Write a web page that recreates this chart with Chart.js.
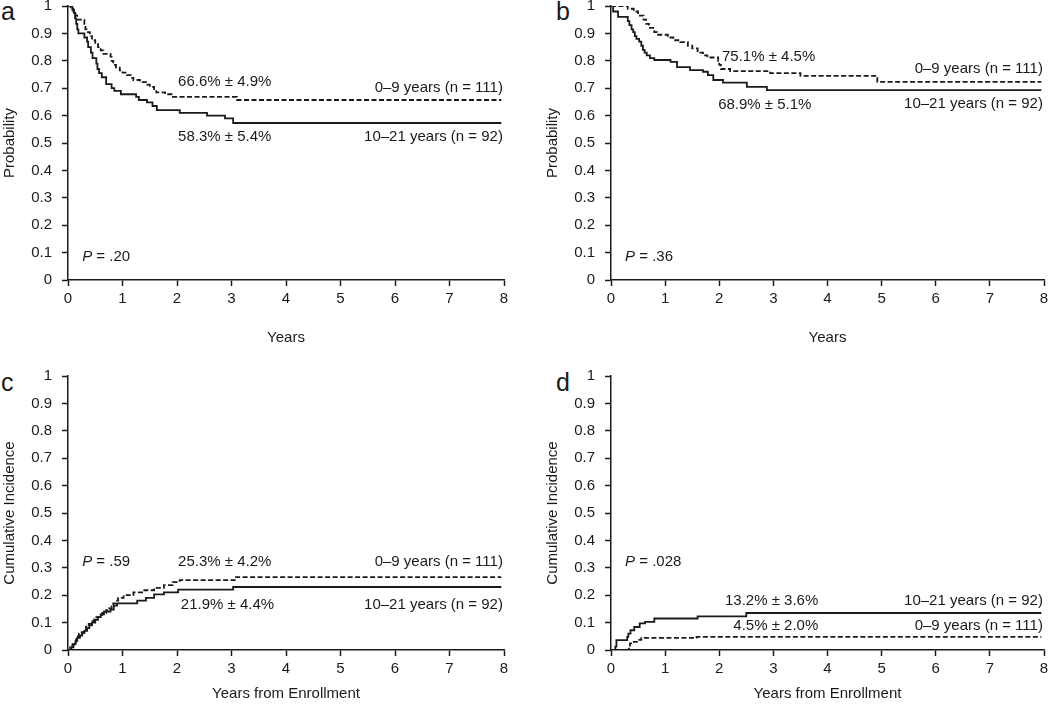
<!DOCTYPE html>
<html>
<head>
<meta charset="utf-8">
<script src="https://cdn.jsdelivr.net/npm/chart.js@4.4.0/dist/chart.umd.min.js"></script>
<style>
  html, body { margin: 0; padding: 0; background: #fff; }
  body { width: 1050px; height: 711px; position: relative; overflow: hidden; font-family: Arial, "Liberation Sans", sans-serif; }
  .panel { position: absolute; }
  .letter { position: absolute; font-size: 25px; color: #1a1a1a; line-height: 1; font-family: Arial, "Liberation Sans", sans-serif; }
</style>
</head>
<body>
<div class="letter" style="left:1px;top:-1px;">a</div>
<div class="letter" style="left:556px;top:-1px;">b</div>
<div class="letter" style="left:1px;top:370px;">c</div>
<div class="letter" style="left:556px;top:370px;">d</div>
<div class="panel" id="pa" style="left:0;top:0;width:525px;height:355px;"><canvas id="ca"></canvas></div>
<div class="panel" id="pb" style="left:543px;top:0;width:507px;height:355px;"><canvas id="cb"></canvas></div>
<div class="panel" id="pc" style="left:0;top:355px;width:525px;height:356px;"><canvas id="cc"></canvas></div>
<div class="panel" id="pd" style="left:543px;top:355px;width:507px;height:356px;"><canvas id="cd"></canvas></div>
<script>
// ---------- DATA ----------
const xTickLabels = ['0','1','2','3','4','5','6','7','8'];
const yTickLabels = ['0','0.1','0.2','0.3','0.4','0.5','0.6','0.7','0.8','0.9','1'];
const seriesNames = ['0–9 years (n = 111)', '10–21 years (n = 92)'];

// Panel a: event-free survival probability
const aYoungT = [0,0.05,0.10,0.14,0.17,0.30,0.32,0.34,0.40,0.44,0.50,0.55,0.60,0.65,0.78,0.80,0.83,0.88,0.95,1.00,1.08,1.15,1.20,1.32,1.45,1.50,1.58,1.62,1.78,1.90,3.10,7.95];
const aYoungS = [1,0.99,0.98,0.965,0.95,0.935,0.915,0.905,0.89,0.875,0.862,0.85,0.838,0.825,0.815,0.80,0.785,0.775,0.765,0.757,0.748,0.738,0.73,0.722,0.713,0.705,0.693,0.685,0.678,0.668,0.657,0.657];
const aOldT = [0,0.08,0.11,0.13,0.15,0.17,0.19,0.30,0.35,0.37,0.42,0.45,0.52,0.54,0.57,0.62,0.70,0.80,0.85,0.97,1.25,1.30,1.45,1.55,1.63,2.05,2.55,2.88,3.03,7.95];
const aOldS = [1,0.985,0.975,0.955,0.935,0.915,0.90,0.885,0.87,0.85,0.83,0.81,0.79,0.77,0.755,0.74,0.715,0.70,0.69,0.678,0.668,0.657,0.648,0.635,0.62,0.61,0.60,0.59,0.573,0.573];

// Panel b: overall survival probability
const bYoungT = [0,0.31,0.42,0.50,0.60,0.65,0.70,0.80,0.85,1.05,1.15,1.28,1.42,1.50,1.60,1.70,1.78,1.98,2.00,2.03,2.20,2.94,3.50,4.92,7.95];
const bYoungS = [1,0.99,0.98,0.965,0.95,0.935,0.92,0.905,0.895,0.885,0.875,0.868,0.855,0.845,0.83,0.82,0.812,0.80,0.785,0.77,0.762,0.755,0.745,0.723,0.723];
const bOldT = [0,0.04,0.13,0.31,0.34,0.38,0.41,0.44,0.47,0.52,0.56,0.59,0.62,0.66,0.72,0.80,1.10,1.22,1.46,1.70,1.79,1.89,2.07,2.51,2.88,7.95];
const bOldS = [1,0.98,0.96,0.945,0.93,0.915,0.905,0.89,0.88,0.87,0.855,0.84,0.83,0.82,0.81,0.803,0.796,0.777,0.766,0.76,0.748,0.73,0.72,0.705,0.693,0.693];

// Panel c: cumulative incidence (relapse)
const cYoungT = [0,0.04,0.08,0.12,0.15,0.18,0.20,0.25,0.29,0.33,0.38,0.43,0.48,0.52,0.58,0.63,0.70,0.75,0.80,0.83,0.88,0.92,1.02,1.20,1.40,1.58,1.76,1.92,2.05,3.08,7.95];
const cYoungS = [0,0.01,0.02,0.03,0.04,0.05,0.06,0.065,0.075,0.085,0.095,0.105,0.112,0.12,0.128,0.135,0.145,0.152,0.16,0.17,0.18,0.19,0.20,0.21,0.218,0.227,0.237,0.248,0.255,0.266,0.266];
const cOldT = [0,0.06,0.10,0.14,0.17,0.22,0.26,0.30,0.35,0.39,0.44,0.50,0.55,0.60,0.66,0.78,0.84,0.90,1.27,1.43,1.58,1.76,2.02,3.03,7.95];
const cOldS = [0,0.01,0.022,0.033,0.044,0.053,0.062,0.07,0.08,0.09,0.10,0.11,0.12,0.13,0.14,0.147,0.162,0.17,0.18,0.19,0.203,0.21,0.22,0.23,0.23];

// Panel d: cumulative incidence (non-relapse)
const dYoungT = [0,0.33,0.35,0.42,0.50,0.56,1.58,7.95];
const dYoungS = [0,0.012,0.024,0.03,0.037,0.044,0.048,0.048];
const dOldT = [0,0.08,0.10,0.30,0.32,0.36,0.43,0.53,0.63,0.80,1.60,2.50,7.95];
const dOldS = [0,0.012,0.036,0.048,0.06,0.072,0.084,0.097,0.103,0.115,0.123,0.135,0.135];

// ---------- HELPERS ----------
const FONT = 'Arial, "Liberation Sans", sans-serif';
const INK = '#1a1a1a';

function pts(t, s) { return t.map((v, i) => ({ x: v, y: s[i] })); }

const kmText = {
  id: 'kmText',
  afterDatasetsDraw(chart, args, opts) {
    const ctx = chart.ctx, xs = chart.scales.x, ys = chart.scales.y;
    ctx.save();
    ctx.fillStyle = INK;
    ctx.textBaseline = 'middle';
    (opts.items || []).forEach(it => {
      const px = xs.getPixelForValue(it.x), py = ys.getPixelForValue(it.y);
      ctx.textAlign = it.align || 'left';
      ctx.font = '15px ' + FONT;
      ctx.fillText(it.text, px, py);
    });
    if (opts.p) {
      const px = xs.getPixelForValue(opts.p.x), py = ys.getPixelForValue(opts.p.y);
      ctx.textAlign = 'left';
      ctx.font = 'italic 15px ' + FONT;
      ctx.fillText('P', px, py);
      const w = ctx.measureText('P').width;
      ctx.font = '15px ' + FONT;
      ctx.fillText(' = ' + opts.p.v, px + w, py);
    }
    ctx.restore();
  }
};

function makeChart(id, cfg) {
  const ds = [
    { label: seriesNames[0], data: pts(cfg.youngT, cfg.youngS), borderColor: INK, borderWidth: 1.8, borderDash: [5, 2.5], stepped: 'before', pointRadius: 0, fill: false },
    { label: seriesNames[1], data: pts(cfg.oldT, cfg.oldS), borderColor: INK, borderWidth: 1.8, stepped: 'before', pointRadius: 0, fill: false }
  ];
  return new Chart(document.getElementById(id), {
    type: 'line',
    data: { datasets: ds },
    plugins: [kmText],
    options: {
      responsive: true,
      maintainAspectRatio: false,
      animation: false,
      devicePixelRatio: 1,
      layout: { padding: { top: cfg.padTop, right: cfg.padRight, left: 0, bottom: 0 } },
      plugins: {
        legend: { display: false },
        tooltip: { enabled: false },
        kmText: { items: cfg.items, p: cfg.p }
      },
      scales: {
        x: {
          type: 'linear', min: 0, max: 8,
          border: { display: true, color: INK, width: 1.5 },
          grid: { display: true, drawOnChartArea: false, drawTicks: true, tickLength: 6, tickColor: INK, tickWidth: 1.5 },
          ticks: { stepSize: 1, color: INK, font: { family: FONT, size: 15 }, padding: 4, maxRotation: 0,
                   callback: (v, i) => xTickLabels[i] },
          title: { display: true, text: cfg.xTitle, color: INK, font: { family: FONT, size: 15 }, padding: { top: 0, bottom: cfg.xTitlePad } },
          afterFit: s => { s.height = cfg.xAxisH; s.paddingLeft = 0; s.paddingRight = 0; }
        },
        y: {
          type: 'linear', min: 0, max: 1,
          border: { display: true, color: INK, width: 1.5 },
          grid: { display: true, drawOnChartArea: false, drawTicks: true, tickLength: 6, tickColor: INK, tickWidth: 1.5 },
          ticks: { stepSize: 0.1, color: INK, font: { family: FONT, size: 15 }, padding: 10,
                   callback: (v, i) => yTickLabels[i] },
          title: { display: true, text: cfg.yTitle, color: INK, font: { family: FONT, size: 15 }, padding: { top: 1, bottom: 0 } },
          afterFit: s => { s.width = 68; s.paddingTop = 0; s.paddingBottom = 0; }
        }
      }
    }
  });
}

makeChart('ca', {
  youngT: aYoungT, youngS: aYoungS, oldT: aOldT, oldS: aOldS,
  padTop: 6, padRight: 21, xAxisH: 75, xTitlePad: 8,
  xTitle: 'Years', yTitle: 'Probability',
  items: [
    { text: '66.6% ± 4.9%', x: 2.02, y: 0.723 },
    { text: seriesNames[0], x: 7.98, y: 0.703, align: 'right' },
    { text: '58.3% ± 5.4%', x: 2.02, y: 0.522 },
    { text: seriesNames[1], x: 7.98, y: 0.522, align: 'right' }
  ],
  p: { x: 0.26, y: 0.084, v: '.20' }
});
makeChart('cb', {
  youngT: bYoungT, youngS: bYoungS, oldT: bOldT, oldS: bOldS,
  padTop: 6, padRight: 6, xAxisH: 75, xTitlePad: 8,
  xTitle: 'Years', yTitle: 'Probability',
  items: [
    { text: '75.1% ± 4.5%', x: 2.05, y: 0.814 },
    { text: seriesNames[0], x: 7.98, y: 0.77, align: 'right' },
    { text: '68.9% ± 5.1%', x: 1.98, y: 0.64 },
    { text: seriesNames[1], x: 7.98, y: 0.642, align: 'right' }
  ],
  p: { x: 0.26, y: 0.084, v: '.36' }
});
makeChart('cc', {
  youngT: cYoungT, youngS: cYoungS, oldT: cOldT, oldS: cOldS,
  padTop: 21, padRight: 21, xAxisH: 61, xTitlePad: 8,
  xTitle: 'Years from Enrollment', yTitle: 'Cumulative Incidence',
  items: [
    { text: '25.3% ± 4.2%', x: 2.02, y: 0.32 },
    { text: seriesNames[0], x: 7.98, y: 0.32, align: 'right' },
    { text: '21.9% ± 4.4%', x: 2.07, y: 0.164 },
    { text: seriesNames[1], x: 7.98, y: 0.164, align: 'right' }
  ],
  p: { x: 0.26, y: 0.32, v: '.59' }
});
makeChart('cd', {
  youngT: dYoungT, youngS: dYoungS, oldT: dOldT, oldS: dOldS,
  padTop: 21, padRight: 6, xAxisH: 61, xTitlePad: 8,
  xTitle: 'Years from Enrollment', yTitle: 'Cumulative Incidence',
  items: [
    { text: '13.2% ± 3.6%', x: 3.83, y: 0.179, align: 'right' },
    { text: seriesNames[1], x: 7.98, y: 0.179, align: 'right' },
    { text: '4.5% ± 2.0%', x: 3.83, y: 0.088, align: 'right' },
    { text: seriesNames[0], x: 7.98, y: 0.088, align: 'right' }
  ],
  p: { x: 0.26, y: 0.32, v: '.028' }
});
</script>
</body>
</html>
